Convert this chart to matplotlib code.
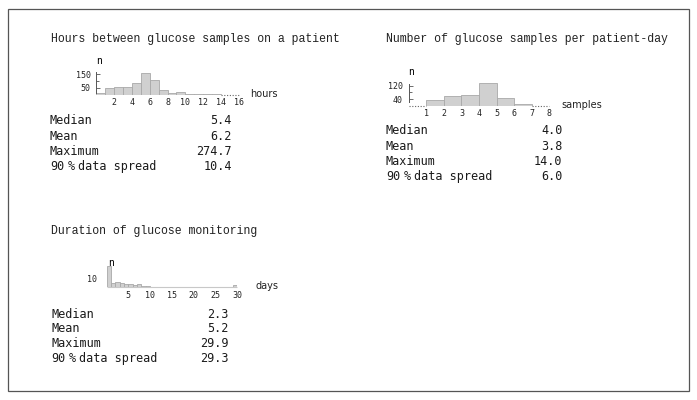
import matplotlib.pyplot as plt
from matplotlib.patches import Rectangle

# Dados dos histogramas
hours_edges = [0, 1, 2, 3, 4, 5, 6, 7, 8, 9, 10, 11, 12, 13]
hours_counts = [16, 52, 55, 59, 88, 162, 109, 36, 10, 20, 3, 3, 3, 3]
hours_ticks = [2, 4, 6, 8, 10, 12, 14, 16]

samples_edges = [1, 2, 3, 4, 5, 6]
samples_counts = [36, 56, 67, 138, 45, 12]
samples_ticks = [1, 2, 3, 4, 5, 6, 7, 8]

days_edges = list(range(30))
days_counts = [24, 4.5, 6, 5, 4, 3.5, 3, 3.5, 2, 1, 0.5, 0, 0, 0.5, 0.5, 0.5, 0, 0, 0, 0,
               0.5, 0, 0, 0, 0, 0, 0.5, 0, 0, 3]
days_ticks = [5, 10, 15, 20, 25, 30]

stat_names = ['Median', 'Mean', 'Maximum']
hours_stats = ['5.4', '6.2', '274.7', '10.4']
samples_stats = ['4.0', '3.8', '14.0', '6.0']
days_stats = ['2.3', '5.2', '29.9', '29.3']

W, H = 697, 400
fig = plt.figure(figsize=(W / 100, H / 100), dpi=100)

TITLE_FONT = dict(family='Liberation Mono', fontsize=8.3, color='#222222')
STAT_FONT = dict(family='DejaVu Sans Mono', fontsize=8.5, color='#1a1a1a')
TICK_FONT = dict(family='DejaVu Sans Mono', fontsize=6)
BAR = dict(color='#d0d0d0', edgecolor='#a8a8a8', linewidth=0.6)
DOTS = dict(colors='#666666', linestyles=(0, (1, 1.5)), linewidth=0.8, clip_on=False)


def texto(x, y, s, **kw):
    kw.setdefault('va', 'center')
    fig.text(x / W, 1 - y / H, s, **kw)


def eixo(x0, x1, ybase, ytop):
    return fig.add_axes([x0 / W, 1 - ybase / H, (x1 - x0) / W, (ybase - ytop) / H])


def estilo(ax, xticks, yticks, yminor, bounds, show_spine=True):
    for s in ['top', 'right', 'bottom']:
        ax.spines[s].set_visible(False)
    ax.spines['left'].set_visible(show_spine)
    ax.spines['left'].set_color('#555555')
    ax.spines['left'].set_linewidth(0.7)
    if bounds:
        ax.spines['left'].set_bounds(*bounds)
    ax.set_xticks(xticks)
    ax.set_xticklabels([str(t) for t in xticks], **TICK_FONT)
    ax.set_yticks(yticks)
    ax.set_yticklabels([str(t) for t in yticks], **TICK_FONT)
    ax.set_yticks(yminor, minor=True)
    ax.tick_params(axis='x', length=0, pad=2.5, colors='#222222')
    ax.tick_params(axis='y', which='both', direction='in', colors='#555555',
                   labelcolor='#222222', width=0.6)
    ax.tick_params(axis='y', which='major', length=3 if show_spine else 0, pad=4)
    ax.tick_params(axis='y', which='minor', length=2 if show_spine else 0)
    ax.patch.set_alpha(0)


def estatisticas(x_label, x_val, y0, dy, vals):
    for i, name in enumerate(stat_names):
        texto(x_label, y0 + i * dy, name, **STAT_FONT)
        texto(x_val, y0 + i * dy, vals[i], ha='right', **STAT_FONT)
    y = y0 + 3 * dy
    # "90 % data spread" com espaços finos
    texto(x_label, y, '90', **STAT_FONT)
    texto(x_label + 17.7, y, '%', **STAT_FONT)
    texto(x_label + 27.7, y, 'data spread', **STAT_FONT)
    texto(x_val, y, vals[3], ha='right', **STAT_FONT)


# Painel 1: horas entre amostras
texto(51, 39, 'Hours between glucose samples on a patient', **TITLE_FONT)
ax1 = eixo(96.3, 238.7, 94.8, 94.8 - 175 * 0.137)
ax1.bar(hours_edges, hours_counts, width=1, align='edge', **BAR)
ax1.hlines(0, 14, 16, **DOTS)
ax1.set_xlim(0, 16)
ax1.set_ylim(0, 175)
estilo(ax1, hours_ticks, [50, 150], [100], (10, 170))
texto(96, 61, 'n', family='DejaVu Sans Mono', fontsize=7)
texto(250.5, 94, 'hours', family='DejaVu Sans', fontsize=7, color='#222222')
estatisticas(50, 232, 120.7, 15.3, hours_stats)

# Painel 2: amostras por paciente-dia
texto(386, 39, 'Number of glucose samples per patient-day', **TITLE_FONT)
ax2 = eixo(408.6, 549.4, 105.8, 105.8 - 145 * 0.168)
ax2.bar(samples_edges, samples_counts, width=1, align='edge', **BAR)
ax2.hlines(0, 0, 1, **DOTS)
ax2.hlines(0, 7, 8, **DOTS)
ax2.set_xlim(0, 8)
ax2.set_ylim(0, 145)
estilo(ax2, samples_ticks, [40, 120], [80], (20, 128))
texto(408, 72.3, 'n', family='DejaVu Sans Mono', fontsize=7)
texto(561.5, 105.5, 'samples', family='DejaVu Sans', fontsize=7, color='#222222')
estatisticas(386, 562.3, 131, 15.3, samples_stats)

# Painel 3: duração da monitorização
texto(51, 230.7, 'Duration of glucose monitoring', **TITLE_FONT)
ax3 = eixo(106.5, 237.3, 287.3, 287.3 - 26 * 0.9)
ax3.hlines(0, 0, 30, colors='#c8c8c8', linewidth=0.8, clip_on=False)
ax3.bar(days_edges, days_counts, width=1, align='edge', **BAR)
ax3.set_xlim(0, 30)
ax3.set_ylim(0, 26)
estilo(ax3, days_ticks, [10], [], None, show_spine=False)
ax3.tick_params(axis='y', pad=7)
texto(107.7, 262.7, 'n', family='DejaVu Sans Mono', fontsize=7)
texto(255.5, 286, 'days', family='DejaVu Sans', fontsize=7, color='#222222')
estatisticas(51, 229, 314, 14.8, days_stats)

# Moldura externa
fig.add_artist(Rectangle((8 / W, 1 - 391 / H), 681 / W, 382 / H, transform=fig.transFigure,
                         fill=False, edgecolor='#555555', linewidth=0.9))

fig.savefig('out.png', dpi=100)
